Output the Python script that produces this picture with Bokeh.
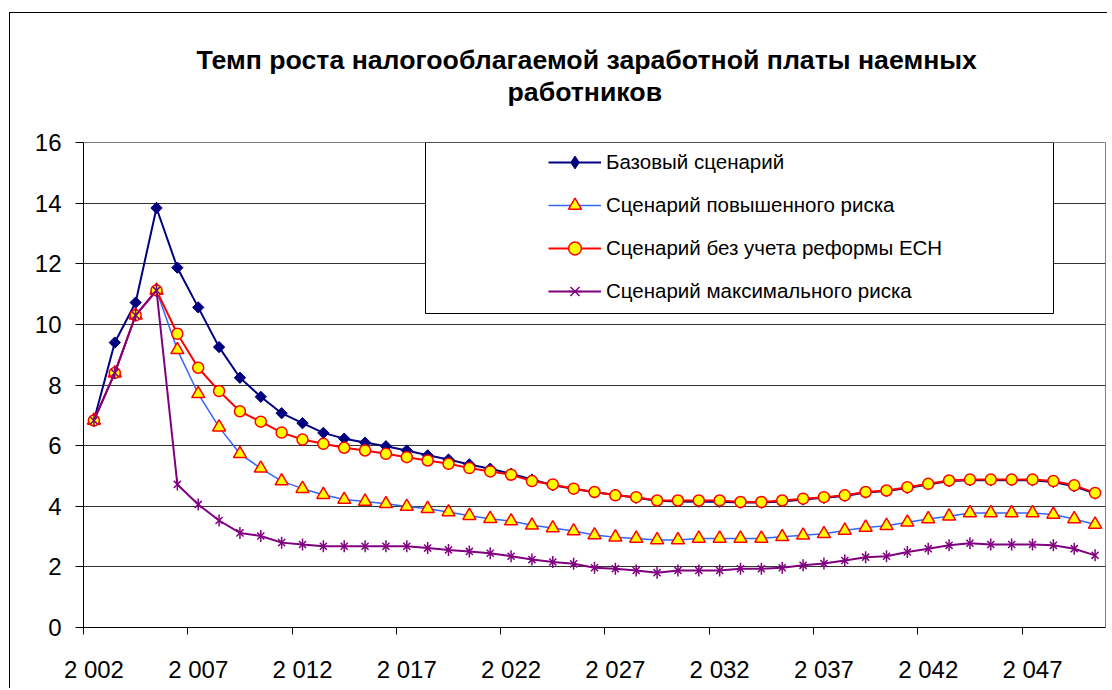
import numpy as np
from bokeh.plotting import figure
from bokeh.models import Range1d, FixedTicker, Legend, LegendItem, BoxAnnotation, Title
from bokeh.embed import file_html
from bokeh.resources import INLINE

FONT = "Liberation Sans"

years = list(range(2002, 2051))

base = [6.83, 9.40, 10.72, 13.84, 11.87, 10.56, 9.25, 8.24, 7.61, 7.07,
        6.74, 6.42, 6.23, 6.10, 5.98, 5.84, 5.68, 5.54, 5.38, 5.24,
        5.07, 4.88, 4.69, 4.58, 4.46, 4.38, 4.28, 4.18, 4.16, 4.15,
        4.15, 4.12, 4.12, 4.16, 4.22, 4.28, 4.34, 4.45, 4.50, 4.60,
        4.72, 4.83, 4.86, 4.86, 4.86, 4.86, 4.80, 4.66, 4.42]

high_risk = [6.83, 8.39, 10.30, 11.12, 9.16, 7.71, 6.61, 5.73, 5.25, 4.83,
             4.58, 4.38, 4.22, 4.16, 4.08, 3.99, 3.92, 3.81, 3.69, 3.59,
             3.51, 3.37, 3.28, 3.18, 3.05, 2.98, 2.94, 2.89, 2.89, 2.94,
             2.94, 2.94, 2.94, 2.99, 3.04, 3.09, 3.20, 3.30, 3.36, 3.47,
             3.58, 3.67, 3.78, 3.78, 3.78, 3.78, 3.73, 3.58, 3.40]

no_reform = [6.83, 8.40, 10.30, 11.12, 9.69, 8.57, 7.80, 7.13, 6.79, 6.43,
             6.20, 6.06, 5.93, 5.84, 5.73, 5.62, 5.51, 5.40, 5.26, 5.15,
             5.04, 4.83, 4.72, 4.58, 4.47, 4.36, 4.30, 4.19, 4.19, 4.19,
             4.19, 4.14, 4.14, 4.19, 4.25, 4.30, 4.36, 4.47, 4.52, 4.63,
             4.74, 4.85, 4.88, 4.88, 4.88, 4.88, 4.83, 4.69, 4.44]

max_risk = [6.83, 8.40, 10.30, 11.12, 4.72, 4.06, 3.53, 3.12, 3.02, 2.80,
            2.74, 2.68, 2.68, 2.68, 2.68, 2.68, 2.62, 2.56, 2.51, 2.45,
            2.35, 2.24, 2.16, 2.10, 1.97, 1.94, 1.88, 1.81, 1.88, 1.88,
            1.88, 1.94, 1.94, 1.97, 2.05, 2.11, 2.21, 2.32, 2.35, 2.49,
            2.60, 2.71, 2.78, 2.74, 2.74, 2.74, 2.71, 2.60, 2.38]

tick_years = [2002, 2007, 2012, 2017, 2022, 2027, 2032, 2037, 2042, 2047]
tick_labels = ["2 002", "2 007", "2 012", "2 017", "2 022",
               "2 027", "2 032", "2 037", "2 042", "2 047"]
y_ticks = [0, 2, 4, 6, 8, 10, 12, 14, 16]

title_lines = ["Темп роста налогооблагаемой заработной платы наемных",
               "работников"]
series_names = ["Базовый сценарий",
                "Сценарий повышенного риска",
                "Сценарий без учета реформы ЕСН",
                "Сценарий максимального риска"]

p = figure(width=1098, height=676, output_backend="svg", toolbar_location=None,
           title=None,
           x_range=Range1d(2001.5, 2050.5), y_range=Range1d(0, 16),
           min_border_left=73, min_border_right=3, min_border_top=129,
           min_border_bottom=62, background_fill_color="white",
           border_fill_color="white")
p.styles = {"border-left": "1px solid #000000", "border-top": "1px solid #000000",
            "margin-top": "12px", "margin-left": "9px"}

# title: blank spacer panel next to the frame, then the two lines
TITLE_STYLE = dict(text_font=FONT, text_font_size="26.7px",
                   text_font_style="bold", text_color="black")
p.add_layout(Title(text=" ", standoff=4, align="center", **TITLE_STYLE), "above")
title_offsets = [113, 424]   # left offsets of the two lines from the frame edge
for line, off in reversed(list(zip(title_lines, title_offsets))):
    p.add_layout(Title(text=line, standoff=0, align="left", offset=off,
                       **TITLE_STYLE), "above")

p.outline_line_color = "#808080"
p.outline_line_width = 1

# grid
p.xgrid.visible = False
p.ygrid.ticker = FixedTicker(ticks=y_ticks)
p.ygrid.grid_line_color = "#000000"
p.ygrid.grid_line_alpha = 0.8
p.ygrid.grid_line_width = 1

# x axis
xa = p.xaxis[0]
xa.ticker = FixedTicker(ticks=tick_years, minor_ticks=[t - 0.5 for t in tick_years])
xa.major_label_overrides = {t: lab for t, lab in zip(tick_years, tick_labels)}
xa.major_tick_out = 0
xa.major_tick_in = 0
xa.minor_tick_out = 7
xa.minor_tick_in = 0
xa.minor_tick_line_color = "black"
xa.axis_line_color = "black"
xa.major_label_standoff = 21
xa.major_label_text_font = FONT
xa.major_label_text_font_size = "24px"
xa.major_label_text_color = "black"

# y axis
ya = p.yaxis[0]
ya.ticker = FixedTicker(ticks=y_ticks)
ya.major_tick_out = 8
ya.major_tick_in = 0
ya.minor_tick_line_color = None
ya.axis_line_color = "black"
ya.major_tick_line_color = "black"
ya.major_label_standoff = 14
ya.major_label_text_font = FONT
ya.major_label_text_font_size = "24px"
ya.major_label_text_color = "black"

NAVY, LBLUE, RED, PURPLE, YELLOW = "#000080", "#3366FF", "#FF0000", "#800080", "#FFFF00"

# series
b_line = p.line(years, base, line_color=NAVY, line_width=2)
# diamond glyph kept under the rotated squares; used for the legend key
b_key = p.scatter(years, base, marker="diamond", size=9,
                  fill_color=NAVY, line_color=NAVY, line_width=1)
b_pts = p.scatter(years, base, marker="square", angle=np.pi / 4, size=8,
                  fill_color=NAVY, line_color=NAVY, line_width=1)

h_line = p.line(years, high_risk, line_color=LBLUE, line_width=1.5)
h_pts = p.scatter(years, high_risk, marker="triangle", size=13,
                  fill_color=YELLOW, line_color=RED, line_width=1.5)

n_line = p.line(years, no_reform, line_color=RED, line_width=2)
n_pts = p.scatter(years, no_reform, marker="circle", size=11,
                  fill_color=YELLOW, line_color=RED, line_width=1.5)

m_line = p.line(years, max_risk, line_color=PURPLE, line_width=2)
m_x = p.scatter(years, max_risk, marker="x", size=10,
                line_color=PURPLE, line_width=1.5)
m_v = p.scatter(years, max_risk, marker="dash", angle=np.pi / 2, size=12,
                line_color=PURPLE, line_width=1.5)

# legend box
box = BoxAnnotation(left=342, right=970, top=485, bottom=314,
                    left_units="screen", right_units="screen",
                    top_units="screen", bottom_units="screen",
                    fill_color="white", fill_alpha=1.0,
                    line_color="black", line_width=1, line_alpha=1.0)
p.add_layout(box)

legend = Legend(items=[
    LegendItem(label=series_names[0], renderers=[b_line, b_key]),
    LegendItem(label=series_names[1], renderers=[h_line, h_pts]),
    LegendItem(label=series_names[2], renderers=[n_line, n_pts]),
    LegendItem(label=series_names[3], renderers=[m_line, m_x, m_v]),
], location=(465, 320))
legend.border_line_color = None
legend.background_fill_alpha = 0
legend.margin = 0
legend.padding = 10
legend.spacing = 11
legend.glyph_width = 53
legend.glyph_height = 32
legend.label_height = 32
legend.label_standoff = 5
legend.label_text_font = FONT
legend.label_text_font_size = "20.5px"
legend.label_text_color = "black"
p.add_layout(legend, "center")

open("out.html", "w").write(file_html(p, INLINE))
